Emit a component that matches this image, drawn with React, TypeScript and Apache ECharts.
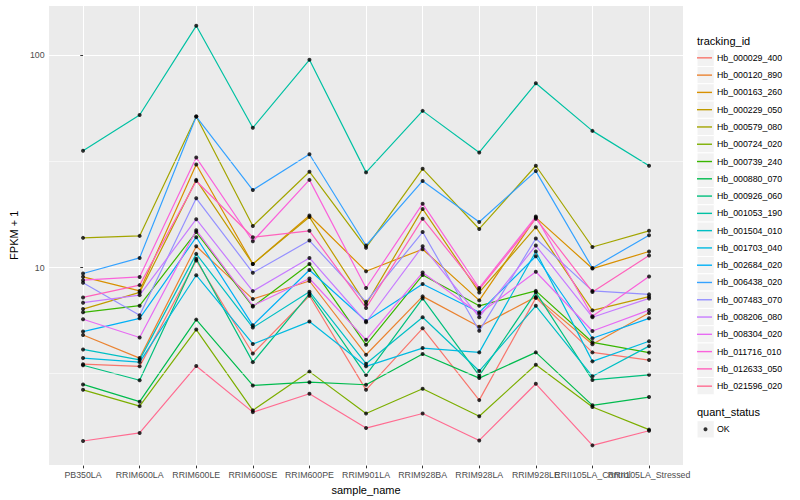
import React, { useEffect, useRef } from "react";
import * as echarts from "echarts";

const categories = [
  "PB350LA", "RRIM600LA", "RRIM600LE", "RRIM600SE", "RRIM600PE", "RRIM901LA",
  "RRIM928BA", "RRIM928LA", "RRIM928LE", "RRII105LA_Control", "RRII105LA_Stressed",
];

const trackingIds = [
  "Hb_000029_400", "Hb_000120_890", "Hb_000163_260", "Hb_000229_050", "Hb_000579_080",
  "Hb_000724_020", "Hb_000739_240", "Hb_000880_070", "Hb_000926_060", "Hb_001053_190",
  "Hb_001504_010", "Hb_001703_040", "Hb_002684_020", "Hb_006438_020", "Hb_007483_070",
  "Hb_008206_080", "Hb_008304_020", "Hb_011716_010", "Hb_012633_050", "Hb_021596_020",
];

const colors = [
  "#F8766D", "#EA8331", "#D89000", "#C09B00", "#A3A500", "#7CAE00", "#39B600", "#00BB4E",
  "#00BF7D", "#00C1A3", "#00BFC4", "#00BAE0", "#00B0F6", "#35A2FF", "#9590FF", "#C77CFF",
  "#E76BF3", "#FA62DB", "#FF62BC", "#FF6C91",
];

// FPKM + 1 per sample, in category order
const hb000029_400 = [3.50, 3.42, 10.8, 3.93, 7.36, 2.65, 5.17, 2.37, 7.19, 3.98, 3.66];
const hb000120_890 = [4.81, 3.74, 12.6, 7.10, 8.64, 3.88, 7.31, 5.26, 7.27, 4.35, 6.11];
const hb000163_260 = [9.04, 7.76, 30.6, 10.4, 17.6, 9.61, 12.2, 7.00, 17.2, 9.89, 11.9];
const hb000229_050 = [6.37, 7.63, 25.9, 10.4, 17.3, 6.70, 18.9, 7.63, 15.5, 6.28, 7.29];
const hb000579_080 = [13.8, 14.1, 51.5, 15.7, 28.3, 12.4, 29.2, 15.2, 30.2, 12.5, 14.9];
const hb000724_020 = [2.65, 2.22, 5.10, 2.12, 3.23, 2.05, 2.68, 1.99, 3.48, 2.20, 1.72];
const hb000739_240 = [6.15, 6.61, 14.7, 6.54, 10.4, 4.32, 9.22, 6.60, 7.76, 4.44, 3.97];
const hb000880_070 = [2.81, 2.33, 5.68, 2.78, 2.88, 2.80, 3.91, 3.01, 3.98, 2.24, 2.45];
const hb000926_060 = [3.46, 2.94, 11.0, 3.58, 7.52, 3.11, 7.15, 3.09, 7.63, 2.95, 3.12];
const hb001053_190 = [35.5, 52.4, 138, 45.6, 95.4, 28.1, 54.8, 34.9, 73.9, 44.1, 30.2];
const hb001504_010 = [4.11, 3.67, 11.6, 5.21, 7.69, 3.52, 5.83, 3.25, 6.60, 3.07, 4.26];
const hb001703_040 = [3.74, 3.58, 9.20, 4.36, 5.56, 3.42, 4.17, 3.98, 11.9, 3.61, 4.49];
const hb002684_020 = [4.99, 5.76, 13.9, 5.34, 9.73, 5.60, 8.37, 6.15, 11.3, 4.64, 5.76];
const hb006438_020 = [9.37, 11.1, 51.5, 23.2, 34.2, 12.7, 25.6, 16.4, 28.5, 9.95, 14.2];
const hb007483_070 = [8.48, 5.95, 21.2, 9.44, 13.4, 6.89, 14.7, 5.03, 13.7, 7.76, 7.47];
const hb008206_080 = [6.83, 7.41, 16.9, 7.74, 11.1, 5.52, 12.6, 5.83, 12.7, 5.83, 7.15];
const hb008304_020 = [5.70, 4.68, 15.0, 6.61, 8.88, 4.56, 9.47, 6.05, 9.55, 5.02, 6.30];
const hb011716_010 = [8.72, 9.03, 33.0, 13.3, 25.9, 8.01, 20.0, 8.01, 17.4, 5.89, 9.07];
const hb012633_050 = [7.23, 8.26, 25.6, 13.9, 14.9, 6.45, 17.0, 7.88, 17.0, 7.67, 11.4];
const hb021596_020 = [1.52, 1.66, 3.43, 2.08, 2.54, 1.75, 2.05, 1.53, 2.83, 1.45, 1.70];

const seriesValues = [
  hb000029_400, hb000120_890, hb000163_260, hb000229_050, hb000579_080,
  hb000724_020, hb000739_240, hb000880_070, hb000926_060, hb001053_190,
  hb001504_010, hb001703_040, hb002684_020, hb006438_020, hb007483_070,
  hb008206_080, hb008304_020, hb011716_010, hb012633_050, hb021596_020,
];

const quantStatus = ["OK"];
const yTickLabels = [10, 100];
const yMinorBreaks = [3.1623, 31.623];
const yLimits = [1.164, 173];
const xLimits = [-0.6, 10.6];

const FONT = "Liberation Sans, Arial, Helvetica, sans-serif";

export default function App() {
  const ref = useRef<HTMLDivElement>(null);

  useEffect(() => {
    document.body.style.margin = "0";
    if (!ref.current) return;
    const chart = echarts.init(ref.current, undefined, { renderer: "svg" });
    const catIdx = categories.map((_, i) => i);
    // an empty trailing slot at the axis end, so that the last two category labels both stay
    const labelSlots = [...catIdx, xLimits[1]];

    const lineSeries = trackingIds.map((name, k) => ({
      type: "line",
      name,
      data: seriesValues[k].map((v, i) => [i, v]),
      showSymbol: false,
      symbol: "none",
      lineStyle: { color: colors[k], width: 1.2 },
      itemStyle: { color: colors[k] },
      z: 2,
      silent: true,
    }));

    const points: number[][] = [];
    seriesValues.forEach((vals) => vals.forEach((v, i) => points.push([i, v])));

    const keyTop = 49.2;
    const keyH = 17.28;
    const graphics: any[] = [];
    trackingIds.forEach((_, i) => {
      graphics.push({
        type: "rect",
        shape: { x: 697, y: keyTop + i * keyH, width: keyH, height: keyH },
        style: { fill: "#F2F2F2", stroke: "#FFFFFF", lineWidth: 1 },
        z: 1,
      });
    });
    graphics.push({
      type: "rect",
      shape: { x: 697, y: 420.7, width: keyH, height: keyH },
      style: { fill: "#F2F2F2", stroke: "#FFFFFF", lineWidth: 1 },
      z: 1,
    });
    graphics.push({
      type: "text",
      x: 697,
      y: 41,
      style: { text: "tracking_id", fontSize: 11, fill: "#000", fontFamily: FONT, verticalAlign: "middle" },
    });
    graphics.push({
      type: "text",
      x: 697,
      y: 412,
      style: { text: "quant_status", fontSize: 11, fill: "#000", fontFamily: FONT, verticalAlign: "middle" },
    });

    chart.setOption({
      animation: false,
      backgroundColor: "#FFFFFF",
      textStyle: { fontFamily: FONT },
      grid: {
        left: 40, right: 117, top: 5, bottom: 32,
        show: true, backgroundColor: "#EBEBEB", borderWidth: 0,
      },
      xAxis: {
        type: "value",
        min: xLimits[0],
        max: xLimits[1],
        name: "sample_name",
        nameLocation: "middle",
        nameGap: 14,
        nameTextStyle: { fontSize: 11, color: "#000", fontFamily: FONT },
        axisLine: { show: false },
        axisTick: { show: true, length: 2.75, customValues: catIdx, lineStyle: { color: "#333333", width: 1 } },
        axisLabel: {
          customValues: labelSlots,
          showMinLabel: true,
          showMaxLabel: false,
          hideOverlap: false,
          formatter: (v: number) => {
            const i = Math.round(v);
            return Math.abs(v - i) < 1e-6 && categories[i] !== undefined ? categories[i] : " ";
          },
          fontSize: 8.8,
          color: "#4D4D4D",
          margin: 4.5,
          fontFamily: FONT,
        },
        splitLine: { show: true, lineStyle: { color: "#FFFFFF", width: 1.07 } },
      },
      yAxis: {
        type: "log",
        logBase: 10,
        min: yLimits[0],
        max: yLimits[1],
        name: "FPKM + 1",
        nameLocation: "middle",
        nameGap: 22,
        nameRotate: 90,
        nameTextStyle: { fontSize: 11, color: "#000", fontFamily: FONT },
        axisLine: { show: false },
        axisTick: { show: true, length: 2.75, lineStyle: { color: "#333333", width: 1 } },
        axisLabel: {
          showMinLabel: false,
          showMaxLabel: false,
          formatter: (v: number) => {
            const hit = yTickLabels.find((t) => Math.abs(t - v) / t < 1e-6);
            return hit !== undefined ? String(hit) : "";
          },
          fontSize: 8.8,
          color: "#4D4D4D",
          margin: 4.5,
          fontFamily: FONT,
        },
        splitLine: { show: true, lineStyle: { color: "#FFFFFF", width: 1.07 } },
      },
      legend: [
        {
          data: trackingIds,
          orient: "vertical",
          left: 697,
          top: keyTop,
          padding: 0,
          itemGap: 0,
          itemWidth: 15,
          itemHeight: 1.4,
          icon: "rect",
          selectedMode: false,
          textStyle: { fontSize: 8.8, color: "#000", fontFamily: FONT, lineHeight: keyH },
        },
        {
          data: quantStatus,
          orient: "vertical",
          left: 703.5,
          top: 420.7,
          padding: 0,
          itemGap: 0,
          itemWidth: 4,
          itemHeight: 4,
          icon: "circle",
          selectedMode: false,
          textStyle: { fontSize: 8.8, color: "#000", fontFamily: FONT, lineHeight: keyH, padding: [0, 0, 0, 4.5] },
        },
      ],
      graphic: graphics,
      series: [
        {
          type: "line",
          name: "__grid",
          data: [],
          z: 1,
          silent: true,
          markLine: {
            silent: true,
            symbol: "none",
            label: { show: false },
            lineStyle: { color: "#FFFFFF", width: 0.55, type: "solid" },
            data: yMinorBreaks.map((v) => ({ yAxis: v })),
          },
        },
        ...lineSeries,
        {
          type: "scatter",
          name: "OK",
          data: points,
          symbol: "circle",
          symbolSize: 4,
          itemStyle: { color: "#000000" },
          z: 3,
          silent: true,
        },
      ],
    });

    return () => chart.dispose();
  }, []);

  return <div ref={ref} style={{ width: 800, height: 500 }} />;
}
